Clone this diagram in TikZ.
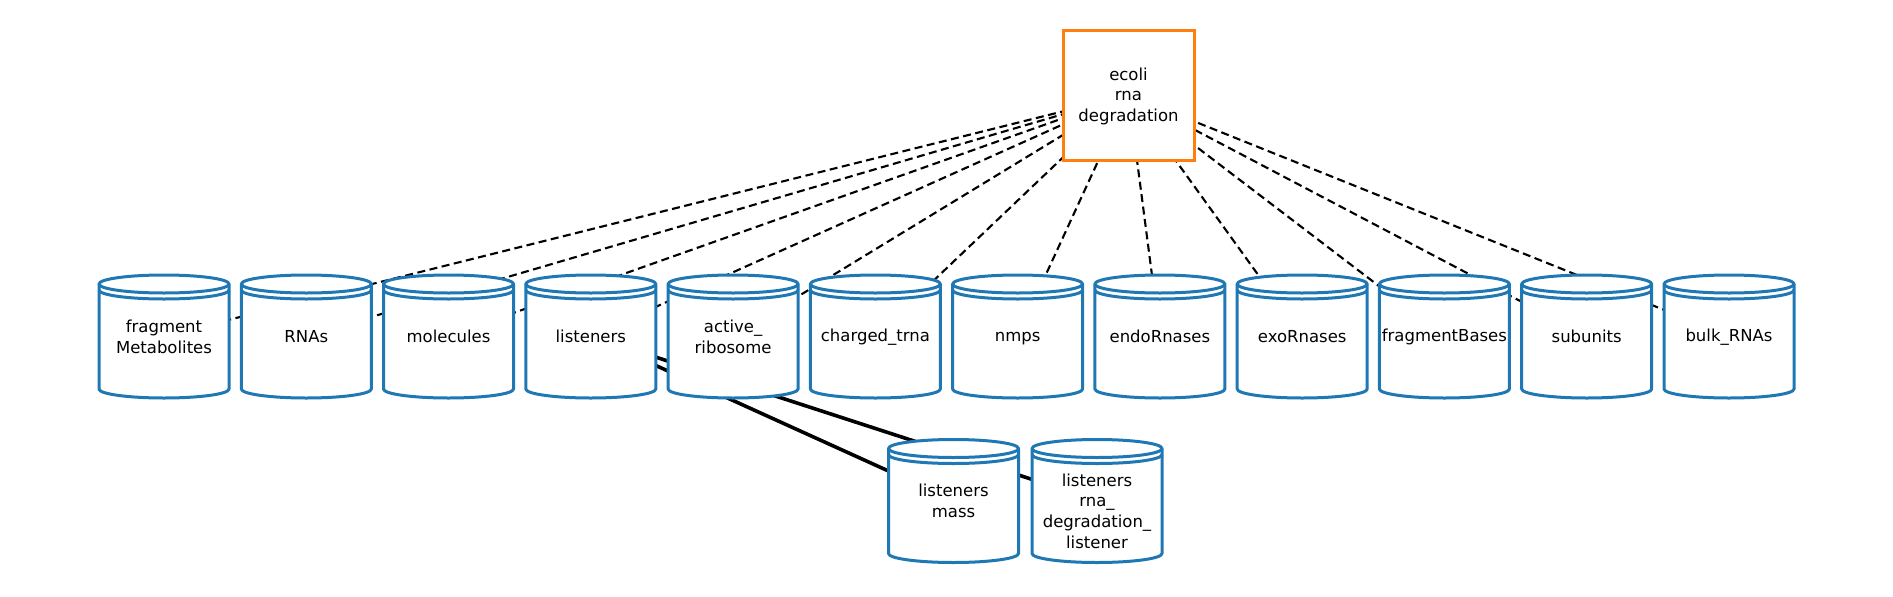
\documentclass[tikz,border=0pt]{standalone}
\usepackage{fontspec}
\setmainfont{DejaVu Sans}
\pgfdeclarelayer{bg}
\pgfdeclarelayer{mid}
\pgfsetlayers{bg,mid,main}
\definecolor{cylblue}{HTML}{1F77B4}
\definecolor{boxorange}{HTML}{FF7F0E}
\newcommand\lps{\vrule width 0pt height 0.91em depth 0.09em\relax}
\tikzset{
  cylline/.style={draw=cylblue, line width=3pt, line join=round},
  cyltext/.style={inner sep=0pt, align=center, text=black,
    font=\fontsize{16.5}{20.7}\selectfont},
  cyl/.style={cyltext, minimum width=130pt, minimum height=124pt},
  procbox/.style={draw=boxorange, fill=white, line width=3pt,
    minimum width=131pt, minimum height=130pt, inner sep=0pt,
    align=center, text=black, font=\fontsize{16.5}{20.7}\selectfont},
  depedge/.style={draw=black, line width=2.1pt, dash pattern=on 8pt off 4.5pt},
  flowedge/.style={draw=black, line width=3.6pt}
}
\begin{document}
\begin{tikzpicture}[x=1pt, y=1pt]
  \useasboundingbox (0,0) rectangle (1893,-597);
  % process
  \node[procbox] (ecoli) at (1128.5,-95) {\lps ecoli\\\lps rna\\\lps degradation};
  % stores, top row
  \node[cyl] (fm)   at (164,-336)    {\lps fragment\\\lps Metabolites};
  \node[cyl] (rnas) at (306.3,-336)  {\lps RNAs};
  \node[cyl] (mol)  at (448.5,-336)  {\lps molecules};
  \node[cyl] (lis)  at (590.8,-336)  {\lps listeners};
  \node[cyl] (ar)   at (733.1,-336)  {\lps active\_\\\lps ribosome};
  \node[cyl] (ct)   at (875.4,-336)  {\lps charged\_trna};
  \node[cyl] (nmps) at (1017.6,-336) {\lps nmps};
  \node[cyl] (endo) at (1159.9,-336) {\lps endoRnases};
  \node[cyl] (exo)  at (1302.2,-336) {\lps exoRnases};
  \node[cyl] (fb)   at (1444.4,-336) {\lps fragmentBases};
  \node[cyl] (sub)  at (1586.7,-336) {\lps subunits};
  \node[cyl] (bulk) at (1729,-336)   {\lps bulk\_RNAs};
  % stores, bottom row
  \node[cyl] (lm)   at (953.5,-500.5) {\lps listeners\\\lps mass};
  \node[cyl, label={[cyltext, yshift=-9.8pt]center:\lps listeners\\\lps rna\_\\\lps degradation\_\\\lps listener}]
    (lrd) at (1097,-500.5) {};
  % cylinder outlines
  \begin{pgfonlayer}{mid}
    \foreach \n in {fm,rnas,mol,lis,ar,ct,nmps,endo,exo,fb,sub,bulk,lm,lrd}{
      \begin{scope}[shift={(\n.center)}]
        \filldraw[cylline, fill=white] (-65,52) -- (-65,-53)
          arc[start angle=180, end angle=360, x radius=65pt, y radius=9pt]
          -- (65,52)
          arc[start angle=0, end angle=180, x radius=65pt, y radius=9pt]
          -- cycle;
        \draw[cylline] (-65,52) arc[start angle=180, end angle=360, x radius=65pt, y radius=9pt];
        \draw[cylline] (-65,46) arc[start angle=180, end angle=360, x radius=65pt, y radius=9pt];
      \end{scope}}
  \end{pgfonlayer}
  % connectors
  \begin{pgfonlayer}{bg}
    \foreach \n in {fm,rnas,mol,lis,ar,ct,nmps,endo,exo,fb,sub,bulk}
      \draw[depedge] (ecoli.center) -- (\n.center);
    \draw[flowedge] (lis.center) -- (lm.center);
    \draw[flowedge] (lis.center) -- (lrd.center);
  \end{pgfonlayer}
\end{tikzpicture}
\end{document}
